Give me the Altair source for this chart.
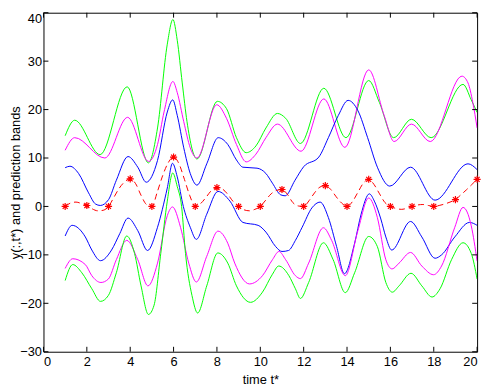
import altair as alt
import pandas as pd

# ---- tick values ----
x_ticks = [0, 2, 4, 6, 8, 10, 12, 14, 16, 18, 20]
y_ticks = [-30, -20, -10, 0, 10, 20, 30, 40]

# ---- green upper band ----
gu_t = [1, 1.44, 2.61, 3.86, 4.84, 5.26, 5.71, 5.97, 6.17, 6.4, 6.62, 7.08, 8.02, 8.44, 8.9, 9.35, 9.8, 10.26,
        10.79, 11.17, 11.85, 12.93, 13.95, 15.0, 15.49, 16.15, 16.97, 17.88, 19.35, 19.73, 20]
gu_v = [14.6, 17.8, 10.7, 24.7, 9.0, 16.2, 33.5, 38.6, 34.3, 25.5, 17.5, 9.8, 21.7, 20.2, 14.2, 11.1, 12.5, 16.2,
        19.2, 18.2, 13.0, 24.4, 14.2, 26.0, 21.5, 14.2, 18.0, 14.2, 25.2, 22.0, 19.4]

# ---- magenta upper band ----
mu_t = [1, 1.44, 2.83, 3.88, 4.85, 5.26, 5.56, 5.97, 6.17, 6.47, 6.77, 7.08, 7.99, 8.44, 8.9, 9.35, 9.8, 10.26,
        10.79, 11.88, 12.93, 13.9, 15.0, 15.71, 16.17, 16.97, 17.84, 19.3, 19.58, 19.8, 20]
mu_v = [11.6, 14.2, 10.0, 18.4, 9.3, 12.8, 19.5, 25.8, 23.5, 17.5, 12.1, 10.0, 21.0, 18.2, 12.8, 9.2, 10.8, 14.2,
        17.0, 11.4, 22.2, 12.2, 28.2, 18.8, 13.4, 17.0, 13.4, 26.9, 25.5, 21.5, 16.2]

# ---- blue upper band ----
bu_t = [1, 1.22, 1.62, 2.08, 2.4, 2.62, 3.0, 3.36, 3.9, 4.35, 4.74, 5.26, 5.71, 5.96, 6.17, 6.47, 6.77, 7.08,
        7.53, 8.06, 8.5, 8.9, 9.2, 9.85, 10.26, 10.56, 10.94, 11.15, 11.6, 12.0, 12.7, 13.14, 13.6, 14.05, 14.5,
        14.95, 15.4, 15.97, 16.93, 18.06, 19.58, 20]
bu_v = [8.0, 8.3, 6.8, 2.8, 0.5, 0.2, 1.4, 5.4, 10.3, 8.1, 5.0, 9.5, 19.5, 22.0, 18.8, 12.1, 6.8, 4.4,
        8.8, 14.2, 12.8, 9.6, 8.1, 7.9, 6.8, 4.8, 2.4, 2.2, 5.4, 8.2, 10.2, 14.2, 18.8, 21.9, 19.8,
        14.2, 8.1, 4.2, 8.1, 1.3, 8.8, 7.6]

# ---- blue lower band ----
bl_t = [1, 1.32, 1.93, 2.23, 2.63, 3.14, 3.52, 3.9, 4.35, 4.8, 5.26, 5.71, 5.95, 6.17, 6.45, 6.77, 7.05, 7.53,
        8.05, 8.6, 9.2, 9.9, 10.26, 10.71, 11.0, 11.3, 11.62, 11.93, 12.38, 12.76, 13.14, 13.52, 13.88, 14.35,
        14.65, 15.03, 15.26, 15.56, 15.79, 16.06, 16.93, 17.45, 18.06, 18.36, 18.97, 19.65, 20]
bl_v = [-6.1, -3.9, -6.3, -9.0, -11.2, -9.0, -5.6, -2.4, -5.0, -9.1, -4.3, 3.8, 8.9, 6.1, 0.0, -4.3, -6.8, -1.6,
        3.1, 1.1, -3.3, -3.9, -5.3, -8.3, -9.3, -9.1, -7.0, -4.3, -0.3, 0.9, -2.3, -8.3, -13.9, -7.6,
        -1.6, 2.6, 1.1, -2.6, -6.3, -9.0, -3.1, -6.3, -10.7, -10.0, -6.3, -3.3, -3.9]

# ---- magenta lower band ----
ml_t = [1, 1.35, 1.93, 2.23, 2.65, 2.99, 3.36, 3.84, 4.35, 4.82, 5.26, 5.71, 5.95, 6.32, 6.7, 7.05, 7.53, 8.05,
        8.5, 8.82, 9.5, 10.1, 10.56, 10.86, 11.17, 11.62, 11.85, 12.23, 12.91, 13.29, 13.92, 14.5, 15.0, 15.4,
        15.79, 16.08, 16.4, 16.93, 17.45, 17.99, 18.36, 18.97, 19.35, 19.73, 20]
ml_v = [-12.8, -10.8, -12.0, -14.3, -15.7, -15.0, -11.0, -7.0, -11.0, -16.4, -11.7, -1.9, -0.1, -4.3, -11.7,
        -15.6, -10.3, -5.1, -7.6, -11.7, -16.0, -14.3, -11.0, -9.3, -11.0, -14.3, -14.9, -11.7, -4.4, -7.0,
        -14.3, -5.0, 1.75, -2.3, -11.0, -12.9, -11.7, -9.5, -12.3, -14.1, -12.3, -4.3, -0.2, -4.0, -11.3]

# ---- green lower band ----
gl_t = [1, 1.35, 1.77, 2.23, 2.63, 2.99, 3.36, 3.84, 4.2, 4.5, 4.84, 5.1, 5.41, 5.71, 5.96, 6.17, 6.37, 6.55,
        6.85, 7.11, 7.53, 8.04, 8.5, 8.9, 9.55, 10.1, 10.56, 10.85, 11.32, 11.62, 11.85, 12.23, 12.91, 13.36,
        13.92, 14.35, 15.0, 15.4, 15.79, 16.09, 16.4, 16.95, 17.45, 17.92, 18.29, 18.82, 19.35, 19.73, 20]
gl_v = [-15.3, -12.0, -13.7, -17.0, -19.6, -18.4, -13.7, -6.1, -9.7, -16.4, -22.3, -20.4, -9.7, 1.1, 6.9, 4.1,
        0.0, -9.7, -18.4, -22.0, -16.4, -9.6, -11.7, -16.4, -19.8, -17.7, -14.0, -12.3, -14.3, -17.0, -19.0,
        -15.7, -7.5, -11.0, -17.8, -13.7, -6.2, -8.3, -15.7, -17.7, -16.4, -13.8, -16.4, -18.7, -17.0, -11.0,
        -7.5, -9.7, -15.0]

# ---- predictive mean (dashed red), read every 0.25 ----
mean_v = [0, 0.7, 0.9, 0.6, 0.2, -0.5, -0.9, -0.8, 0, 1.9, 3.8, 5.1, 5.7, 4.7, 2.3, 0.4, 0, 3.0, 6.4, 9.0,
          10.2, 8.8, 5.6, 2.2, 0, 0.6, 1.9, 3.3, 3.9, 3.6, 2.5, 1.0, 0, -0.7, -0.9, -0.6, 0, 1.3, 2.6, 3.3,
          3.5, 2.5, 0.8, 0.1, 0, 1.2, 2.8, 4.0, 4.3, 3.5, 2.0, 0.7, 0, 1.0, 2.9, 4.8, 5.6, 4.5, 2.6, 0.8,
          0, -0.4, -0.6, -0.4, 0, 0.3, 0.4, 0.2, 0, 0.2, 0.5, 0.9, 1.4, 2.4, 3.4, 4.5, 5.6]
mean_t = [1 + 0.25 * i for i in range(len(mean_v))]

# ---- observations (stars) ----
star_t = list(range(1, 21))
star_v = [0, 0.2, 0, 5.7, 0, 10.2, 0, 3.9, 0, 0, 3.5, 0, 4.3, 0, 5.6, 0, 0, 0, 1.4, 5.6]

band_names = ["gu", "mu", "bu", "bl", "ml", "gl"]
band_colors = ["#00ff00", "#ff00ff", "#0000ff", "#0000ff", "#ff00ff", "#00ff00"]
band_series = [(gu_t, gu_v), (mu_t, mu_v), (bu_t, bu_v), (bl_t, bl_v), (ml_t, ml_v), (gl_t, gl_v)]

bands = pd.concat(
    [pd.DataFrame({"t": ts, "v": vs, "band": n}) for n, (ts, vs) in zip(band_names, band_series)],
    ignore_index=True,
)
mean_df = pd.DataFrame({"t": mean_t, "v": mean_v})
star_df = pd.DataFrame({"t": star_t, "v": star_v})
xt_df = pd.DataFrame({"t": x_ticks})
yt_df = pd.DataFrame({"v": y_ticks})

W, H = 440, 344
FONT = "Liberation Sans"

xs = alt.Scale(domain=[0, 20], nice=False, zero=False)
ys = alt.Scale(domain=[-30, 40], nice=False, zero=False)

x_axis = alt.Axis(values=x_ticks, title="time t*", labelPadding=4, titlePadding=5,
                  format="d")
y_axis = alt.Axis(values=y_ticks, title="y(:,t*) and prediction bands", labelPadding=2, titlePadding=-3,
                  format="d",
                  labelBaseline={"condition": {"test": "datum.value === 40", "value": "top"},
                                 "value": "middle"})

X = alt.X("t:Q", scale=xs, axis=x_axis)
Y = alt.Y("v:Q", scale=ys, axis=y_axis)

lines = alt.Chart(bands).mark_line(strokeWidth=1, interpolate="monotone", clip=True).encode(
    x=X, y=Y,
    color=alt.Color("band:N", scale=alt.Scale(domain=band_names, range=band_colors), legend=None),
    detail="band:N",
)

mean_line = alt.Chart(mean_df).mark_line(
    color="#ff0000", strokeWidth=1, strokeDash=[6, 4], interpolate="monotone"
).encode(x=X, y=Y)

ASTERISK = "M-1,0L1,0M0,-1L0,1M-0.7,-0.7L0.7,0.7M-0.7,0.7L0.7,-0.7"
stars = alt.Chart(star_df).mark_point(
    shape=ASTERISK, size=52, color="#ff0000", filled=False, strokeWidth=1.2, opacity=1
).encode(x=X, y=Y)

tick_len = 5
tb = alt.Chart(xt_df).mark_rule(color="black", strokeWidth=1).encode(
    x=X, y=alt.value(H), y2=alt.value(H - tick_len))
tt = alt.Chart(xt_df).mark_rule(color="black", strokeWidth=1).encode(
    x=X, y=alt.value(0), y2=alt.value(tick_len))
tl = alt.Chart(yt_df).mark_rule(color="black", strokeWidth=1).encode(
    y=Y, x=alt.value(0), x2=alt.value(tick_len))
tr = alt.Chart(yt_df).mark_rule(color="black", strokeWidth=1).encode(
    y=Y, x=alt.value(W), x2=alt.value(W - tick_len))

chart = alt.layer(lines, mean_line, stars, tb, tt, tl, tr).properties(
    width=W, height=H,
    autosize=alt.AutoSizeParams(type="none"),
    padding={"left": 36, "top": 2, "right": 8, "bottom": 33},
    background="white",
).configure_view(
    stroke="black", strokeWidth=1
).configure_axis(
    grid=False, ticks=False, domain=False,
    labelFont=FONT, labelFontSize=13, labelColor="black",
    titleFont=FONT, titleFontSize=13, titleFontWeight="normal", titleColor="black",
)

chart.save("out.html", embed_options={"renderer": "svg", "actions": False})
